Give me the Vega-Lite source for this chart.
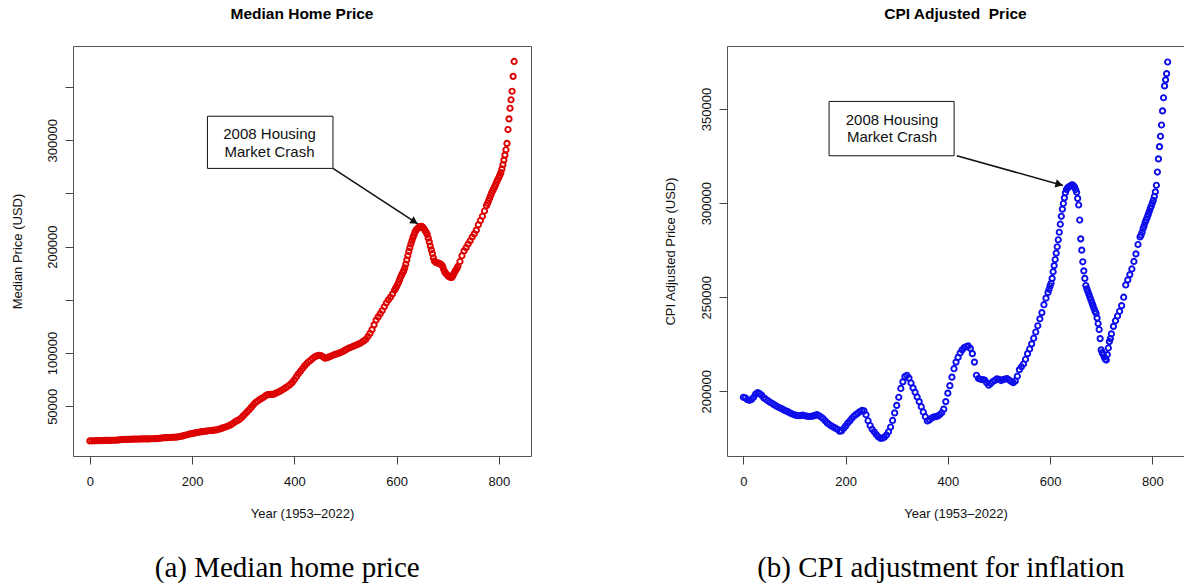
{
"$schema": "https://vega.github.io/schema/vega-lite/v6.json",
"background": "white",
"padding": {"left": 10, "top": 6, "right": 0, "bottom": 0},
"bounds": "flush",
"spacing": 196,
"config": {
  "view": {"stroke": "#555", "strokeWidth": 1},
  "font": "Liberation Sans",
  "axis": {"grid": false, "domain": false, "tickColor": "#444", "tickSize": 8, "labelColor": "#111", "labelFontSize": 13, "labelFont": "Liberation Sans", "titleFont": "Liberation Sans", "titleFontSize": 13, "titleFontWeight": "normal", "titleColor": "#111", "labelOverlap": false, "labelFlush": false},
  "title": {"font": "Liberation Sans", "fontSize": 15.5, "fontWeight": "bold", "color": "#000", "frame": "group", "anchor": "middle", "baseline": "alphabetic", "offset": 24}
},
"datasets": {
  "series": [
{"t":0,"m":17500,"c":196800},{"t":4,"m":17600,"c":196500},{"t":8,"m":17600,"c":195500},{"t":12,"m":17700,"c":195200},{"t":16,"m":17700,"c":195600},{"t":20,"m":17800,"c":196800},{"t":24,"m":17800,"c":198500},{"t":28,"m":17900,"c":199300},{"t":32,"m":17900,"c":198800},{"t":36,"m":18000,"c":197800},{"t":40,"m":18000,"c":196500},{"t":44,"m":18100,"c":195800},{"t":48,"m":18100,"c":195000},{"t":52,"m":18200,"c":194200},{"t":56,"m":18300,"c":193600},{"t":60,"m":18700,"c":192900},{"t":64,"m":18800,"c":192200},{"t":68,"m":18900,"c":191600},{"t":72,"m":18900,"c":191100},{"t":76,"m":19000,"c":190600},{"t":80,"m":19000,"c":190000},{"t":84,"m":19100,"c":189500},{"t":88,"m":19100,"c":189000},{"t":92,"m":19200,"c":188400},{"t":96,"m":19200,"c":187900},{"t":100,"m":19300,"c":187500},{"t":104,"m":19300,"c":187200},{"t":108,"m":19300,"c":187000},{"t":112,"m":19400,"c":187100},{"t":116,"m":19400,"c":187300},{"t":120,"m":19500,"c":187000},{"t":124,"m":19500,"c":186800},{"t":128,"m":19600,"c":186600},{"t":132,"m":19700,"c":186700},{"t":136,"m":19800,"c":186800},{"t":140,"m":20200,"c":187200},{"t":144,"m":20400,"c":187600},{"t":148,"m":20500,"c":187000},{"t":152,"m":20600,"c":186300},{"t":156,"m":20700,"c":185500},{"t":160,"m":20800,"c":184300},{"t":164,"m":20900,"c":183200},{"t":168,"m":21000,"c":182300},{"t":172,"m":21200,"c":181600},{"t":176,"m":21600,"c":181000},{"t":180,"m":22000,"c":180400},{"t":184,"m":22500,"c":179800},{"t":188,"m":23000,"c":178800},{"t":192,"m":23500,"c":178900},{"t":196,"m":24000,"c":180200},{"t":200,"m":24400,"c":181500},{"t":204,"m":24800,"c":183000},{"t":208,"m":25200,"c":184200},{"t":212,"m":25600,"c":185500},{"t":216,"m":25900,"c":186700},{"t":220,"m":26200,"c":187600},{"t":224,"m":26500,"c":188400},{"t":228,"m":26700,"c":189200},{"t":232,"m":27000,"c":189800},{"t":236,"m":27200,"c":189600},{"t":240,"m":27400,"c":187500},{"t":244,"m":27600,"c":184300},{"t":248,"m":27900,"c":181800},{"t":252,"m":28400,"c":179800},{"t":256,"m":29000,"c":178500},{"t":260,"m":29700,"c":177000},{"t":264,"m":30300,"c":175800},{"t":268,"m":31000,"c":175000},{"t":272,"m":31800,"c":175100},{"t":276,"m":32800,"c":175600},{"t":280,"m":34000,"c":176800},{"t":284,"m":35400,"c":178500},{"t":288,"m":36500,"c":181000},{"t":292,"m":37500,"c":184500},{"t":296,"m":39000,"c":188500},{"t":300,"m":41000,"c":192500},{"t":304,"m":43000,"c":196800},{"t":308,"m":45000,"c":201500},{"t":312,"m":47000,"c":205000},{"t":316,"m":49200,"c":207800},{"t":320,"m":51500,"c":208500},{"t":324,"m":53500,"c":207000},{"t":328,"m":55000,"c":204400},{"t":332,"m":56300,"c":201800},{"t":336,"m":57400,"c":199500},{"t":340,"m":58500,"c":197000},{"t":344,"m":60000,"c":194500},{"t":348,"m":61000,"c":191800},{"t":352,"m":61200,"c":189000},{"t":356,"m":61200,"c":186500},{"t":360,"m":61400,"c":184200},{"t":364,"m":62300,"c":184800},{"t":368,"m":63200,"c":185700},{"t":372,"m":64200,"c":186300},{"t":376,"m":65300,"c":186500},{"t":380,"m":66500,"c":186800},{"t":384,"m":67800,"c":187500},{"t":388,"m":69000,"c":188600},{"t":392,"m":70600,"c":190500},{"t":396,"m":72500,"c":194500},{"t":400,"m":75000,"c":199000},{"t":404,"m":77800,"c":203000},{"t":408,"m":80500,"c":207500},{"t":412,"m":83000,"c":212000},{"t":416,"m":85500,"c":215500},{"t":420,"m":88000,"c":218000},{"t":424,"m":90000,"c":220300},{"t":428,"m":91800,"c":222000},{"t":432,"m":93300,"c":223200},{"t":436,"m":95000,"c":223800},{"t":440,"m":96500,"c":224100},{"t":444,"m":97400,"c":222800},{"t":448,"m":97800,"c":220000},{"t":452,"m":97600,"c":215500},{"t":456,"m":96500,"c":208500},{"t":460,"m":95200,"c":206800},{"t":464,"m":95600,"c":206400},{"t":468,"m":96400,"c":206200},{"t":472,"m":97200,"c":206000},{"t":476,"m":98000,"c":204500},{"t":480,"m":98700,"c":203200},{"t":484,"m":99400,"c":204200},{"t":488,"m":100100,"c":205200},{"t":492,"m":100800,"c":205800},{"t":496,"m":101800,"c":206600},{"t":500,"m":103000,"c":206300},{"t":504,"m":104000,"c":205700},{"t":508,"m":105000,"c":206200},{"t":512,"m":105700,"c":206500},{"t":516,"m":106500,"c":206800},{"t":520,"m":107300,"c":206000},{"t":524,"m":108200,"c":205200},{"t":528,"m":109000,"c":204600},{"t":532,"m":110200,"c":205500},{"t":536,"m":111500,"c":208000},{"t":540,"m":113000,"c":211500},{"t":544,"m":115500,"c":213000},{"t":548,"m":118500,"c":214500},{"t":552,"m":122000,"c":217000},{"t":556,"m":126500,"c":220000},{"t":560,"m":131000,"c":222500},{"t":564,"m":134000,"c":225200},{"t":568,"m":137000,"c":228200},{"t":572,"m":140000,"c":231500},{"t":576,"m":143500,"c":234800},{"t":580,"m":147000,"c":238500},{"t":584,"m":150000,"c":241800},{"t":588,"m":152500,"c":246000},{"t":592,"m":155500,"c":249500},{"t":596,"m":159000,"c":252500},{"t":598,"m":160800,"c":254200},{"t":600,"m":162500,"c":256000},{"t":602,"m":164500,"c":257400},{"t":604,"m":166500,"c":260000},{"t":606,"m":169000,"c":263500},{"t":608,"m":171500,"c":266800},{"t":610,"m":173500,"c":270000},{"t":612,"m":175500,"c":273400},{"t":614,"m":177500,"c":276800},{"t":616,"m":180000,"c":280500},{"t":618,"m":183500,"c":284500},{"t":620,"m":187500,"c":288800},{"t":622,"m":191500,"c":293000},{"t":624,"m":195500,"c":296800},{"t":626,"m":199000,"c":299800},{"t":628,"m":202500,"c":302800},{"t":630,"m":205500,"c":305500},{"t":632,"m":208500,"c":307200},{"t":634,"m":211000,"c":308000},{"t":636,"m":213500,"c":308500},{"t":638,"m":215500,"c":308800},{"t":640,"m":216500,"c":309200},{"t":642,"m":217500,"c":309600},{"t":644,"m":218300,"c":309700},{"t":646,"m":218800,"c":309200},{"t":648,"m":219000,"c":308500},{"t":650,"m":218800,"c":307200},{"t":652,"m":218000,"c":305800},{"t":654,"m":216500,"c":302500},{"t":656,"m":215000,"c":299000},{"t":658,"m":213500,"c":291000},{"t":660,"m":211500,"c":281000},{"t":662,"m":208000,"c":275000},{"t":664,"m":204500,"c":268800},{"t":666,"m":200500,"c":264000},{"t":668,"m":197000,"c":260000},{"t":670,"m":193500,"c":256200},{"t":672,"m":189500,"c":254500},{"t":674,"m":186500,"c":253000},{"t":676,"m":185500,"c":251500},{"t":678,"m":185000,"c":250000},{"t":680,"m":184800,"c":248500},{"t":682,"m":184500,"c":247000},{"t":684,"m":184000,"c":245500},{"t":686,"m":183500,"c":244000},{"t":688,"m":183000,"c":242500},{"t":690,"m":181500,"c":241500},{"t":692,"m":179000,"c":239000},{"t":694,"m":176500,"c":236000},{"t":696,"m":175000,"c":232800},{"t":698,"m":174000,"c":228000},{"t":700,"m":173000,"c":222000},{"t":702,"m":172000,"c":220500},{"t":704,"m":171500,"c":219500},{"t":706,"m":171000,"c":218200},{"t":708,"m":171000,"c":217000},{"t":710,"m":172500,"c":216600},{"t":712,"m":174500,"c":219500},{"t":714,"m":176500,"c":223000},{"t":716,"m":178000,"c":226400},{"t":718,"m":179500,"c":228000},{"t":720,"m":181500,"c":230500},{"t":724,"m":186000,"c":234500},{"t":728,"m":191500,"c":237500},{"t":732,"m":196000,"c":240000},{"t":736,"m":199000,"c":242500},{"t":740,"m":202500,"c":245500},{"t":744,"m":205500,"c":250000},{"t":748,"m":209000,"c":256500},{"t":752,"m":212000,"c":259200},{"t":756,"m":215500,"c":262000},{"t":760,"m":220500,"c":265000},{"t":764,"m":224500,"c":269000},{"t":768,"m":228500,"c":273000},{"t":772,"m":233500,"c":278000},{"t":776,"m":238500,"c":282000},{"t":778,"m":240700,"c":283000},{"t":780,"m":243000,"c":284500},{"t":782,"m":245500,"c":286500},{"t":784,"m":248000,"c":288000},{"t":786,"m":250500,"c":289800},{"t":788,"m":252500,"c":291100},{"t":790,"m":254500,"c":292500},{"t":792,"m":256500,"c":294000},{"t":794,"m":258500,"c":295500},{"t":796,"m":261000,"c":297200},{"t":798,"m":263000,"c":298500},{"t":800,"m":265000,"c":300000},{"t":802,"m":267000,"c":301500},{"t":804,"m":269500,"c":303500},{"t":806,"m":273000,"c":306000},{"t":808,"m":277000,"c":309500},{"t":810,"m":281300,"c":316500},{"t":812,"m":286000,"c":323500},{"t":814,"m":291000,"c":330000},{"t":816,"m":297000,"c":335500},{"t":818,"m":310000,"c":341500},{"t":820,"m":320000,"c":349000},{"t":822,"m":330000,"c":356000},{"t":824,"m":338000,"c":362300},{"t":826,"m":346000,"c":365500},{"t":828,"m":360000,"c":368800},{"t":830,"m":374000,"c":375000}
  ],
  "noteA": [{"x1":230,"x2":475.6,"y1":273500,"y2":322500,"tx":351.5,"ty":305500,"label":"2008 Housing\nMarket Crash","ax":475.6,"ay":273500,"bx":641.6,"by":221350,"hx":635,"hy":223400}],
  "noteB": [{"x1":167.7,"x2":412.3,"y1":325160,"y2":354040,"tx":290.8,"ty":344170,"label":"2008 Housing\nMarket Crash","ax":417.6,"ay":325160,"bx":625.3,"by":309400,"hx":617.8,"hy":309970}]
},
"hconcat": [
  {
    "width": 458, "height": 410,
    "title": {"text": "Median Home Price"},
    "resolve": {"axis": {"x": "independent"}},
    "layer": [
      {
        "data": {"name": "series"},
        "mark": {"type": "point", "shape": "circle", "filled": false, "size": 28, "strokeWidth": 1.9, "color": "#dd0000", "opacity": 1},
        "encoding": {
          "x": {"field": "t", "type": "quantitative", "scale": {"domain": [-33, 863], "nice": false, "zero": false},
                "axis": {"orient": "bottom", "values": [0, 200, 400, 600, 800], "title": "Year (1953\u20132022)", "labelPadding": 11, "titlePadding": 19, "minExtent": 32, "maxExtent": 32}},
          "y": {"field": "m", "type": "quantitative", "scale": {"domain": [3300, 388500], "nice": false, "zero": false},
                "axis": {"values": [50000, 100000, 150000, 200000, 250000, 300000, 350000], "format": "d",
                         "labelExpr": "datum.value == 150000 || datum.value == 250000 || datum.value == 350000 ? '' : datum.label",
                         "labelAngle": 270, "labelAlign": "center", "labelBaseline": "alphabetic", "labelPadding": 9,
                         "title": "Median Price (USD)", "titlePadding": 20, "minExtent": 29, "maxExtent": 29}}
        }
      },
      {
        "data": {"name": "noteA"},
        "mark": {"type": "rect", "fill": "white", "stroke": "#111", "strokeWidth": 1},
        "encoding": {
          "x": {"field": "x1", "type": "quantitative", "axis": null}, "x2": {"field": "x2"},
          "y": {"field": "y1", "type": "quantitative"}, "y2": {"field": "y2"}
        }
      },
      {
        "data": {"name": "noteA"},
        "mark": {"type": "rule", "stroke": "#111", "strokeWidth": 1.5},
        "encoding": {
          "x": {"field": "ax", "type": "quantitative", "axis": null}, "x2": {"field": "bx"},
          "y": {"field": "ay", "type": "quantitative"}, "y2": {"field": "by"}
        }
      },
      {
        "data": {"name": "noteA"},
        "mark": {"type": "point", "shape": "triangle-right", "filled": true, "size": 70, "color": "#111", "opacity": 1, "angle": 33},
        "encoding": {
          "x": {"field": "hx", "type": "quantitative", "axis": null},
          "y": {"field": "hy", "type": "quantitative"}
        }
      },
      {
        "data": {"name": "noteA"},
        "mark": {"type": "text", "font": "Liberation Sans", "fontSize": 15, "lineHeight": 17.4, "lineBreak": "\n", "align": "center", "baseline": "middle", "color": "#111"},
        "encoding": {
          "x": {"field": "tx", "type": "quantitative",
                "axis": {"orient": "bottom", "labels": false, "ticks": false, "domain": false, "title": "(a) Median home price", "titleFont": "Liberation Serif", "titleFontSize": 29, "titleFontWeight": "normal", "titleColor": "#000", "titlePadding": 97, "minExtent": 0, "maxExtent": 0, "titleX": 213.7, "titleBaseline": "top"}},
          "y": {"field": "ty", "type": "quantitative"},
          "text": {"field": "label"}
        }
      }
    ]
  },
  {
    "width": 457, "height": 410,
    "title": {"text": "CPI Adjusted\u00a0 Price"},
    "resolve": {"axis": {"x": "independent"}},
    "layer": [
      {
        "data": {"name": "series"},
        "mark": {"type": "point", "shape": "circle", "filled": false, "size": 28, "strokeWidth": 1.9, "color": "#0d0deb", "opacity": 1},
        "encoding": {
          "x": {"field": "t", "type": "quantitative", "scale": {"domain": [-32, 862], "nice": false, "zero": false},
                "axis": {"orient": "bottom", "values": [0, 200, 400, 600, 800], "title": "Year (1953\u20132022)", "labelPadding": 11, "titlePadding": 19, "minExtent": 32, "maxExtent": 32}},
          "y": {"field": "c", "type": "quantitative", "scale": {"domain": [165600, 383500], "nice": false, "zero": false},
                "axis": {"values": [200000, 250000, 300000, 350000], "format": "d",
                         "labelAngle": 270, "labelAlign": "center", "labelBaseline": "alphabetic", "labelPadding": 9,
                         "title": "CPI Adjusted Price (USD)", "titlePadding": 21, "minExtent": 29, "maxExtent": 29}}
        }
      },
      {
        "data": {"name": "noteB"},
        "mark": {"type": "rect", "fill": "white", "stroke": "#111", "strokeWidth": 1},
        "encoding": {
          "x": {"field": "x1", "type": "quantitative", "axis": null}, "x2": {"field": "x2"},
          "y": {"field": "y1", "type": "quantitative"}, "y2": {"field": "y2"}
        }
      },
      {
        "data": {"name": "noteB"},
        "mark": {"type": "rule", "stroke": "#111", "strokeWidth": 1.5},
        "encoding": {
          "x": {"field": "ax", "type": "quantitative", "axis": null}, "x2": {"field": "bx"},
          "y": {"field": "ay", "type": "quantitative"}, "y2": {"field": "by"}
        }
      },
      {
        "data": {"name": "noteB"},
        "mark": {"type": "point", "shape": "triangle-right", "filled": true, "size": 70, "color": "#111", "opacity": 1, "angle": 15.6},
        "encoding": {
          "x": {"field": "hx", "type": "quantitative", "axis": null},
          "y": {"field": "hy", "type": "quantitative"}
        }
      },
      {
        "data": {"name": "noteB"},
        "mark": {"type": "text", "font": "Liberation Sans", "fontSize": 15, "lineHeight": 17.4, "lineBreak": "\n", "align": "center", "baseline": "middle", "color": "#111"},
        "encoding": {
          "x": {"field": "tx", "type": "quantitative",
                "axis": {"orient": "bottom", "labels": false, "ticks": false, "domain": false, "title": "(b) CPI adjustment for inflation", "titleFont": "Liberation Serif", "titleFontSize": 29, "titleFontWeight": "normal", "titleColor": "#000", "titlePadding": 97, "minExtent": 0, "maxExtent": 0, "titleX": 213.3, "titleBaseline": "top"}},
          "y": {"field": "ty", "type": "quantitative"},
          "text": {"field": "label"}
        }
      }
    ]
  }
]
}
